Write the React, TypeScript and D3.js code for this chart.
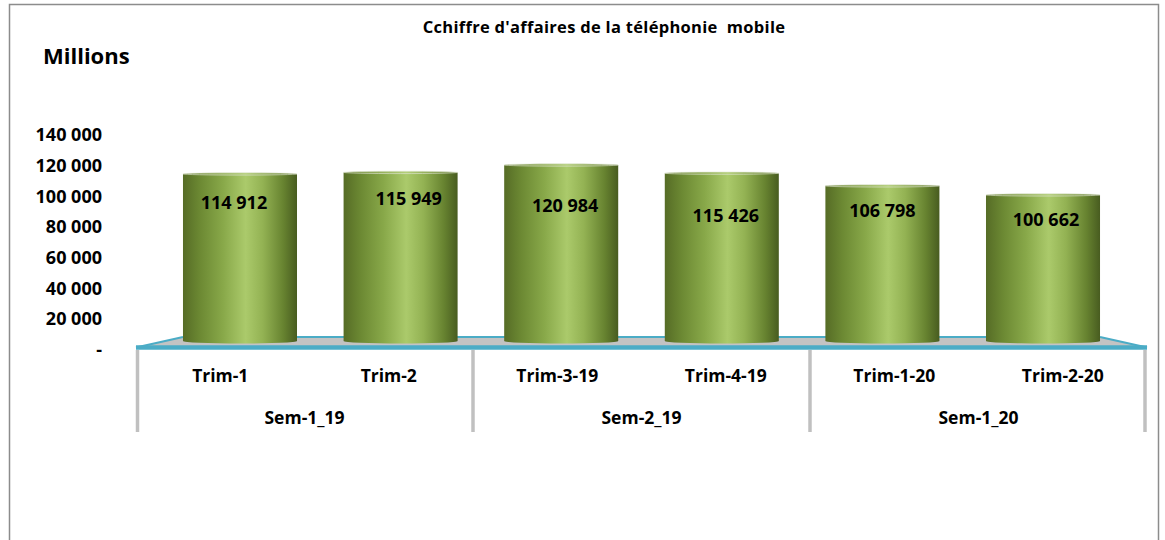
import React from "react";
import * as d3 from "d3";

const trims = ["Trim-1", "Trim-2", "Trim-3-19", "Trim-4-19", "Trim-1-20", "Trim-2-20"];
const semesters = ["Sem-1_19", "Sem-2_19", "Sem-1_20"];
const values = [114912, 115949, 120984, 115426, 106798, 100662];
const yTicks = [0, 20000, 40000, 60000, 80000, 100000, 120000, 140000];
const titleText = "Cchiffre d'affaires de la téléphonie  mobile";
const unitText = "Millions";

// label nudges (px) relative to cylinder top-center, as placed in the original
const labelDx = [-6, 8, 4, 4, 0, 3];
const labelDy = [29, 26, 41, 43, 25, 25];

const W = 1165;
const H = 540;
const FONT = "'Open Sans', 'Liberation Sans', sans-serif";

const fmt = (v: number) => (v === 0 ? "-" : d3.format(",")(v).replace(/,/g, " "));

export default function App() {
  const frontL = 136, frontR = 1147;
  const floorFront = 347.5, floorBack = 337;
  const barBase = 343;

  const axisY = d3.scaleLinear().domain([0, 140000]).range([349.5, 135]);
  const barY = d3.scaleLinear().domain([0, 140000]).range([barBase, 137]);
  const xBar = d3.scaleBand<string>().domain(trims).range([frontL, frontR]).paddingInner(0.29).paddingOuter(0.2925);
  const xTrim = d3.scaleBand<string>().domain(trims).range([frontL, frontR]);
  const xSem = d3.scaleBand<string>().domain(semesters).range([frontL, frontR]);

  const backL = xBar(trims[0])!;
  const backR = xBar(trims[trims.length - 1])! + xBar.bandwidth();
  const bw = xBar.bandwidth();
  const rx = bw / 2;

  const seps = [frontL + 1.5, ...semesters.slice(1).map((s) => xSem(s)!), frontR - 2];

  return (
    <svg width={W} height={H} style={{ position: "absolute", left: 0, top: 0, background: "#fff" }}>
      <defs>
        <linearGradient id="cyl" x1="0" x2="1" y1="0" y2="0">
          <stop offset="0" stopColor="#566c26" />
          <stop offset="0.15" stopColor="#6c8933" />
          <stop offset="0.35" stopColor="#88a849" />
          <stop offset="0.55" stopColor="#abca6b" />
          <stop offset="0.7" stopColor="#93b253" />
          <stop offset="0.88" stopColor="#678330" />
          <stop offset="1" stopColor="#485c20" />
        </linearGradient>
        <linearGradient id="cyltop" x1="0" x2="1" y1="0" y2="0">
          <stop offset="0" stopColor="#6a8234" />
          <stop offset="0.55" stopColor="#b3cf78" />
          <stop offset="1" stopColor="#62792f" />
        </linearGradient>
      </defs>

      {/* outer frame */}
      <rect x={9.5} y={4.5} width={1149} height={560} fill="none" stroke="#8c8c8c" strokeWidth={1.5} />

      {/* title */}
      <text x={604} y={33} textAnchor="middle" fontFamily={FONT} fontWeight={700} fontSize={16.5} letterSpacing={0.3} fill="#000" style={{ whiteSpace: "pre" }}>
        {titleText}
      </text>
      <text x={43} y={64} fontFamily={FONT} fontWeight={700} fontSize={22} fill="#000">
        {unitText}
      </text>

      {/* y tick labels */}
      {yTicks.map((t) => (
        <text key={t} x={102} y={axisY(t)} dy="0.35em" textAnchor="end" fontFamily={FONT} fontWeight={700} fontSize={18} fill="#000">
          {fmt(t)}
        </text>
      ))}

      {/* floor */}
      <polygon
        points={`${backL},${floorBack} ${backR},${floorBack} ${frontR},${floorFront} ${frontL},${floorFront}`}
        fill="#c3c3c3"
      />
      <line x1={backL} y1={floorBack} x2={backR} y2={floorBack} stroke="#4bacc6" strokeWidth={1.8} />
      <line x1={backL} y1={floorBack} x2={frontL} y2={floorFront} stroke="#4bacc6" strokeWidth={2} />
      <line x1={backR} y1={floorBack} x2={frontR} y2={floorFront} stroke="#4bacc6" strokeWidth={2} />
      <line x1={frontL} y1={floorFront} x2={frontR} y2={floorFront} stroke="#4bacc6" strokeWidth={4.5} />

      {/* cylinders */}
      {values.map((v, i) => {
        const x0 = xBar(trims[i])!;
        const top = barY(v);
        const d = `M${x0},${top} L${x0},${barBase - 2} A${rx},2.5 0 0 0 ${x0 + bw},${barBase - 2} L${x0 + bw},${top} Z`;
        return (
          <g key={trims[i]}>
            <path d={d} fill="url(#cyl)" />
            <ellipse cx={x0 + rx} cy={top} rx={rx} ry={1.2} fill="url(#cyltop)" stroke="#e3e8d8" strokeWidth={0.6} />
          </g>
        );
      })}

      {/* value labels */}
      {values.map((v, i) => (
        <text
          key={"v" + i}
          x={xBar(trims[i])! + rx + labelDx[i]}
          y={barY(v) + labelDy[i]}
          dy="0.35em"
          textAnchor="middle"
          fontFamily={FONT}
          fontWeight={700}
          fontSize={18}
          fill="#000"
        >
          {fmt(v)}
        </text>
      ))}

      {/* category separators */}
      {seps.map((x, i) => (
        <line key={"s" + i} x1={x} y1={350} x2={x} y2={432} stroke="#c0c0c0" strokeWidth={3.5} />
      ))}

      {/* trim labels */}
      {trims.map((t) => (
        <text key={t} x={xTrim(t)! + xTrim.bandwidth() / 2} y={376} dy="0.35em" textAnchor="middle" fontFamily={FONT} fontWeight={700} fontSize={17.5} fill="#000">
          {t}
        </text>
      ))}

      {/* semester labels */}
      {semesters.map((s) => (
        <text key={s} x={xSem(s)! + xSem.bandwidth() / 2} y={418} dy="0.35em" textAnchor="middle" fontFamily={FONT} fontWeight={700} fontSize={17.5} fill="#000">
          {s}
        </text>
      ))}
    </svg>
  );
}
